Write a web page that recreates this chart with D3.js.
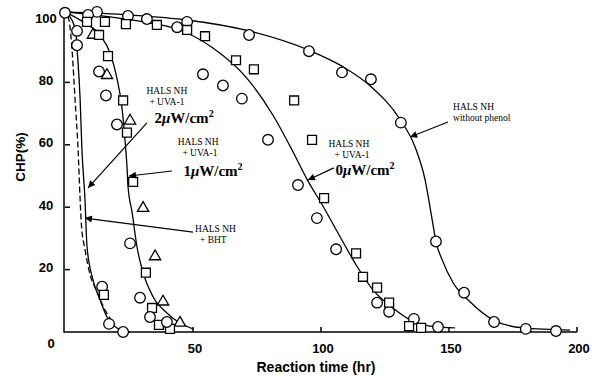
<!DOCTYPE html>
<html><head><meta charset="utf-8">
<script src="https://cdn.jsdelivr.net/npm/d3@7"></script>
<style>body{margin:0;background:#fff}svg{display:block}</style>
</head><body>
<svg id="c" width="592" height="376"></svg>
<script>
// ---- tick labels ----
const xTicks = [50, 100, 150, 200];
const yTicks = [20, 40, 60, 80, 100];

// ---- measured points [time (hr), CHP (%)] ----
const circlesNoPhenol = [[0,102.3],[12.5,102.6],[24.6,101.3],[32,100.3],[47.7,99.4],[71.9,95.2],[95.3,90],[108.2,83.2],[119.5,81],[131.2,67.1],[144.9,29],[155.9,12.6],[167.6,3.2],[180,1],[191.8,0.3]];
const circles0uW = [[9,101.6],[43.8,97.7],[53.9,82.6],[61.7,79],[69.1,74.8],[79.3,61.6],[91,47.1],[98.4,36.5],[105.9,26.5],[121.9,9.4],[126.6,6.5],[136.3,4.2],[145.7,1.6]];
const squares0uW = [[8.6,99.4],[15.6,99.4],[23.8,98.7],[35.9,98.4],[47.7,96.8],[54.7,94.8],[66.8,87.1],[73.8,84.2],[89.5,74.2],[96.5,61.6],[101.2,42.9],[113.7,25.2],[116.4,17.7],[121.9,14.2],[126.6,9.4],[134.4,1.9],[139.1,1.3]];
const triangles1uW = [[10.9,95.2],[16.4,82.3],[25.4,67.7],[30.5,39.7],[35.2,24.2],[38.3,9.7],[44.9,2.9]];
const squares1uW = [[13.3,95.2],[16.8,88.4],[22.7,74.2],[24.2,63.9],[26.6,48.1],[31.6,19],[34,7.7],[36.7,2.3],[41,1]];
const circles1uW = [[13.3,83.5],[16,75.8],[20.3,66.5],[25.4,28.4],[29.3,11],[33.2,4.8],[39.8,3.2]];
const circlesFast = [[4.7,96.5],[4.7,91.9],[14.5,14.5],[17.2,2.6],[22.7,0]];
const squaresFast = [[15.2,11.9]];

// ---- fitted curves ----
const curveNoPhenol = [[0,102.6],[25.4,101.6],[47.7,100],[71.9,96.5],[95.3,90.3],[108.2,85.2],[119.5,78.7],[130.9,68.1],[136.7,59.4],[140.6,49],[143.4,36.1],[144.9,29],[147.3,23.2],[151.6,15.8],[158.2,9.7],[167.2,3.9],[178.9,1.3],[197.3,0.6]];
const curve0uW = [[0,102.6],[17.6,101],[33.2,99],[44.9,96.8],[57.8,91],[71.1,81.3],[81.3,69.4],[89.1,57.7],[94.5,49],[100.8,40.3],[107.4,30.6],[114.1,21],[120.3,13.5],[128.1,7.7],[134.8,3.9],[142.6,1.9],[152.3,1.3]];
const curve1uW = [[0,102.6],[7.8,99],[13.7,95.2],[17.6,89.4],[20.3,81.3],[22.3,71.6],[23.4,61.9],[24.2,53.2],[24.6,46.8],[26.2,38.4],[28.1,27.4],[30.5,19],[34.4,11.3],[39.8,6.1],[44.9,2.9],[50,1]];
const curve2uW = [[0,102.5],[2.7,100],[4.3,95.8],[4.7,91],[5.9,74.8],[6.6,58.7],[7.8,42.6],[8.6,27.4],[10.9,16.8],[13.7,10.3],[16.4,4.8],[20.3,1.3],[25.4,0]];
const curveBHT = [[1.2,101.3],[2,97.4],[2.7,91],[3.9,74.8],[5.1,58.7],[5.9,42.6],[6.4,34.5],[7.8,26.5],[9.8,18.4],[12.5,12.9],[15.6,7.1],[19.5,2.3]];

// ---- annotations (data units) ----
const annotations = [
  {lines:[["HALS NH",39.8,76.3],["+ UVA-1",39.8,72.8]], big:["2",46.5,67], arrow:[[32,67],[9,46.2]]},
  {lines:[["HALS NH",52,59.9],["+ UVA-1",52.7,56.4]], big:["1",57.8,50], arrow:[[41.8,51.6],[25,50]]},
  {lines:[["HALS NH",110.9,59.3],["+ UVA-1",112.1,55.8]], big:["0",117.2,50.3], arrow:[[105,52.6],[94.9,48.7]]},
  {lines:[["HALS NH",151.6,71.2,"start"],["without phenol",151.6,67.6,"start"]], arrow:[[149.6,67.3],[134.8,62.5]]},
  {lines:[["HALS NH",50.8,32,"start"],["+ BHT",52.7,28.5,"start"]], arrow:[[50,32],[7.8,36.5]]}
];

const svg = d3.select("#c");
const x = d3.scaleLinear().domain([0,200]).range([65,577]);
const y = d3.scaleLinear().domain([0,100]).range([332,20]);
const axisX = 64;

// arrow marker
svg.append("defs").append("marker")
  .attr("id","ah").attr("viewBox","0 0 10 10").attr("refX",10).attr("refY",5)
  .attr("markerWidth",9).attr("markerHeight",7).attr("markerUnits","userSpaceOnUse")
  .attr("orient","auto")
  .append("path").attr("d","M0,0L10,5L0,10Z").attr("fill","#000");

// axes
const ax = svg.append("g").attr("stroke","#000").attr("stroke-width",1.5).attr("fill","none");
ax.append("line").attr("x1",axisX).attr("x2",axisX).attr("y1",y(0)+0.75).attr("y2",y(101));
ax.append("line").attr("x1",axisX).attr("x2",x(200)).attr("y1",y(0)).attr("y2",y(0));
ax.selectAll(".yt").data(yTicks.slice(0,4)).join("line")
  .attr("x1",axisX+1).attr("x2",axisX+6).attr("y1",d=>y(d)).attr("y2",d=>y(d));
ax.selectAll(".xt").data(xTicks).join("line")
  .attr("x1",d=>x(d)).attr("x2",d=>x(d)).attr("y1",y(0)).attr("y2",y(0)-5);

const tl = svg.append("g").attr("font-family","'Liberation Sans',Arial,sans-serif")
  .attr("font-weight","bold").attr("font-size",13).attr("fill","#000");
tl.selectAll(".yl").data(yTicks).join("text")
  .attr("x",46).attr("y",d=>y(d)-2).attr("dy","0.35em").attr("text-anchor","middle").text(d=>d);
tl.selectAll(".xl").data(xTicks).join("text")
  .attr("x",d=>x(d)+2).attr("y",y(0)+21).attr("text-anchor","middle").text(d=>d);
tl.append("text").attr("x",51).attr("y",y(0)+16).attr("text-anchor","middle").text("0");

svg.append("text").attr("font-family","'Liberation Sans',Arial,sans-serif").attr("font-weight","bold")
  .attr("font-size",14).attr("text-anchor","middle").attr("x",316).attr("y",372).text("Reaction time (hr)");
svg.append("text").attr("font-family","'Liberation Sans',Arial,sans-serif").attr("font-weight","bold")
  .attr("font-size",13.5).attr("text-anchor","middle")
  .attr("transform","translate(25,157) rotate(-90)").text("CHP(%)");

// curves
const line = d3.line().x(d=>x(d[0])).y(d=>y(d[1])).curve(d3.curveMonotoneX);
const cg = svg.append("g").attr("fill","none").attr("stroke","#000").attr("stroke-width",1.3);
[curveNoPhenol, curve0uW, curve1uW, curve2uW].forEach(c => cg.append("path").attr("d", line(c)));
cg.append("path").attr("d", line(curveBHT)).attr("stroke-dasharray","6,3");

// markers
const mg = svg.append("g").attr("fill","#fff").attr("stroke","#000").attr("stroke-width",1.3);
const circ = arr => mg.append("g").selectAll("circle").data(arr).join("circle")
  .attr("cx",d=>x(d[0])).attr("cy",d=>y(d[1])).attr("r",5.3);
const sq = arr => mg.append("g").selectAll("path").data(arr).join("path")
  .attr("d",d3.symbol(d3.symbolSquare,80)).attr("transform",d=>`translate(${x(d[0])},${y(d[1])})`);
const tri = arr => mg.append("g").selectAll("path").data(arr).join("path")
  .attr("d",d3.symbol(d3.symbolTriangle,55)).attr("transform",d=>`translate(${x(d[0])},${y(d[1])})`);
circ(circlesNoPhenol); circ(circles0uW); sq(squares0uW);
tri(triangles1uW); sq(squares1uW); circ(circles1uW);
circ(circlesFast); sq(squaresFast);

// annotations
const ag = svg.append("g").attr("font-family","'Liberation Serif','Times New Roman',serif").attr("fill","#000");
annotations.forEach(a => {
  a.lines.forEach(l => ag.append("text").attr("x",x(l[1])).attr("y",y(l[2]))
    .attr("font-size",9.5).attr("text-anchor",l[3]||"middle").text(l[0]));
  if (a.big) {
    const t = ag.append("text").attr("x",x(a.big[1])).attr("y",y(a.big[2]))
      .attr("font-size",15).attr("font-weight","bold").attr("text-anchor","middle");
    t.append("tspan").text(a.big[0]);
    t.append("tspan").attr("font-style","italic").text("\u03bc");
    t.append("tspan").text("W/cm");
    t.append("tspan").attr("font-size",10).attr("dy",-6).text("2");
  }
  svg.append("line").attr("x1",x(a.arrow[0][0])).attr("y1",y(a.arrow[0][1]))
    .attr("x2",x(a.arrow[1][0])).attr("y2",y(a.arrow[1][1]))
    .attr("stroke","#000").attr("stroke-width",1.2).attr("marker-end","url(#ah)");
});
</script>
</body></html>
